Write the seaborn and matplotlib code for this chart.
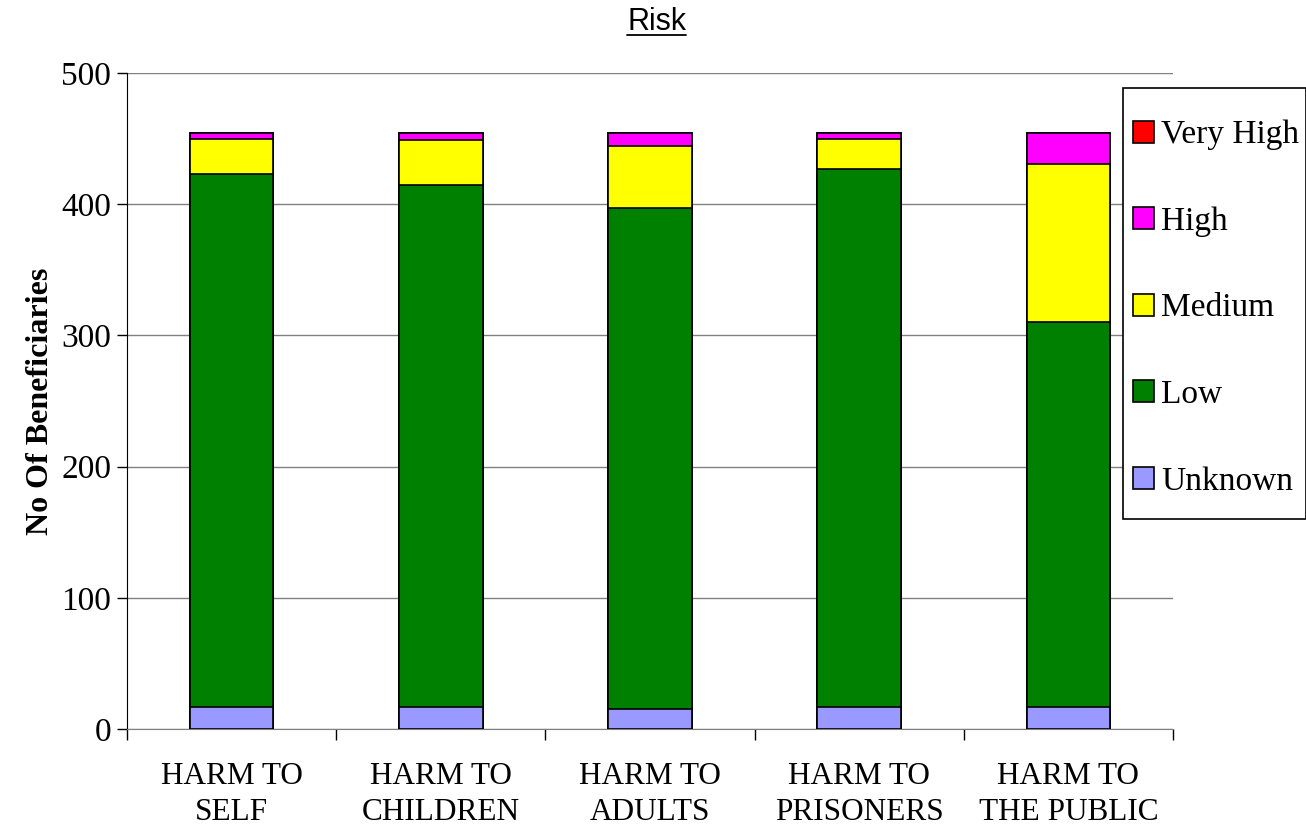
import matplotlib
matplotlib.use("Agg")
import matplotlib.pyplot as plt
import numpy as np
import pandas as pd
import seaborn as sns
from matplotlib.patches import Patch, Rectangle
from matplotlib.lines import Line2D

# Data
categories = ["HARM TO\nSELF", "HARM TO\nCHILDREN", "HARM TO\nADULTS", "HARM TO\nPRISONERS", "HARM TO\nTHE PUBLIC"]
unknown = [17, 17, 15, 17, 17]
low = [406, 398, 382, 410, 293]
medium = [27, 34, 47, 23, 121]
high = [4, 5, 10, 4, 23]
very_high = [0, 0, 0, 0, 0]

series_names = ["Unknown", "Low", "Medium", "High", "Very High"]
series_colors = ["#9999FF", "#008000", "#FFFF00", "#FF00FF", "#FF0000"]

sns.set_style("white")
plt.rcParams["font.family"] = ["Liberation Serif", "DejaVu Serif"]
plt.rcParams["text.color"] = "black"
plt.rcParams["axes.labelcolor"] = "black"
plt.rcParams["xtick.color"] = "black"
plt.rcParams["ytick.color"] = "black"

fig = plt.figure(figsize=(13.06, 8.30), dpi=100)
ax = fig.add_axes([127 / 1306, 1 - 729 / 830, (1173 - 127) / 1306, (729 - 73) / 830])

# cumulative stacks, drawn tallest first so lower layers sit on top
layers = [unknown, low, medium, high, very_high]
cum = np.cumsum(np.array(layers), axis=0)
for i in range(len(layers) - 1, -1, -1):
    df = pd.DataFrame({"cat": categories, "val": cum[i]})
    sns.barplot(data=df, x="cat", y="val", color=series_colors[i], saturation=1,
                width=0.4, edgecolor="black", linewidth=1.2, ax=ax, zorder=3)

ax.set_xlim(-0.5, 4.5)
ax.set_ylim(0, 500)
ax.set_yticks(range(0, 501, 100))
ax.yaxis.grid(True, color="#808080", linewidth=1)
ax.set_axisbelow(True)
ax.spines["top"].set_visible(False)
ax.spines["right"].set_visible(False)
ax.spines["left"].set_color("black")
ax.spines["bottom"].set_color("#808080")
ax.tick_params(axis="y", labelsize=24, length=7, width=1, color="black", left=True, pad=4.5)
ax.set_xticks(range(5))
ax.set_xticklabels(categories, fontsize=22.5, linespacing=1.3)
ax.tick_params(axis="x", which="major", length=0, pad=24)
ax.set_xticks(np.arange(-0.5, 5, 1), minor=True)
ax.tick_params(axis="x", which="minor", length=8, width=1, color="black", bottom=True)
ax.set_xlabel("")
ax.set_ylabel("No Of Beneficiaries", fontsize=23, fontweight="bold", labelpad=4)

title = fig.text(0.503, 0.9735, "Risk", ha="center", va="center", fontsize=22,
                 family=["Liberation Sans", "DejaVu Sans"])

# legend frame drawn separately, entries without frame
fig.add_artist(Rectangle((1123 / 1306, 1 - 519 / 830), (1306 - 1123) / 1306, (519 - 88) / 830,
                         transform=fig.transFigure, facecolor="white", edgecolor="black",
                         linewidth=1.2, zorder=4))
handles = [Patch(facecolor=series_colors[i], edgecolor="black", linewidth=1.2, label=series_names[i])
           for i in range(len(series_names) - 1, -1, -1)]
leg = fig.legend(handles=handles, loc="upper left", bbox_to_anchor=(1133 / 1306, 1 - 120 / 830),
                 fontsize=24, frameon=False, labelspacing=1.68, handlelength=0.63,
                 handleheight=0.63, handletextpad=0.22, borderpad=0, borderaxespad=0)
leg.set_zorder(5)

# underline the title
fig.canvas.draw()
bb = title.get_window_extent().transformed(fig.transFigure.inverted())
fig.add_artist(Line2D([bb.x0, bb.x1], [bb.y0 + 0.002, bb.y0 + 0.002], color="black", linewidth=1.3,
                      transform=fig.transFigure))

fig.savefig("out.png", dpi=100)
